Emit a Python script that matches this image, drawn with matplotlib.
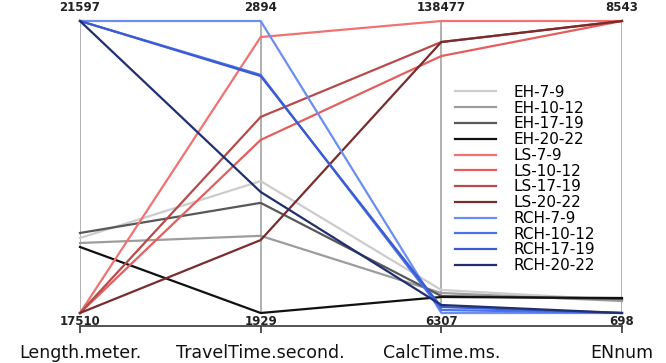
import numpy as np
import matplotlib.pyplot as plt

# route groups and hour windows
series = ["EH-7-9", "EH-10-12", "EH-17-19", "EH-20-22",
          "LS-7-9", "LS-10-12", "LS-17-19", "LS-20-22",
          "RCH-7-9", "RCH-10-12", "RCH-17-19", "RCH-20-22"]

columns = ["Length.meter.", "TravelTime.second.", "CalcTime.ms.", "ENnum"]

length_m = [18560, 18490, 18630, 18434,
            17510, 17510, 17510, 17510,
            21597, 21597, 21597, 21597]
travel_s = [2365, 2184, 2293, 1929,
            2841, 2501, 2577, 2170,
            2894, 2716, 2712, 2329]
calc_ms = [16720, 15360, 13980, 13550,
           138477, 122630, 128970, 128970,
           6307, 7665, 9020, 9930]
en_num = [1047, 1020, 1074, 1101,
          8543, 8543, 8543, 8543,
          698, 698, 698, 698]

colors = ["#cccccc", "#9c9c9c", "#585858", "#111111",
          "#f27272", "#e45e5e", "#b84a4a", "#7a2c2c",
          "#6b8ff0", "#4a72ea", "#3c5bd2", "#1f2f70"]

data = np.array([length_m, travel_s, calc_ms, en_num], dtype=float)
lo = data.min(axis=1)
hi = data.max(axis=1)
norm = (data - lo[:, None]) / (hi - lo)[:, None]
x = np.arange(len(columns))

fig = plt.figure(figsize=(6.66, 3.63), dpi=100)
ax = fig.add_axes([80 / 666, 1 - 313 / 363, 542 / 666, 292 / 363])

for i in x:
    ax.axvline(i, color="#aaaaaa", lw=1.3, zorder=1)

for j, name in enumerate(series):
    ax.plot(x, norm[:, j], color=colors[j], lw=1.6, label=name,
            clip_on=False, zorder=2)

ax.set_xlim(0, 3)
ax.set_ylim(0, 1)

# min / max value at each parallel axis
for i in x:
    ax.annotate(f"{hi[i]:.0f}", (i, 1), xytext=(0, 5), textcoords="offset points",
                ha="center", va="bottom", fontsize=8.5, fontweight="bold", color="#222222")
    ax.annotate(f"{lo[i]:.0f}", (i, 0), xytext=(0, -6), textcoords="offset points",
                ha="center", va="center", fontsize=8.5, fontweight="bold", color="#222222")

for side in ["top", "left", "right"]:
    ax.spines[side].set_visible(False)
ax.spines["bottom"].set_position(("outward", 9.5))
ax.spines["bottom"].set_color("#444444")
ax.spines["bottom"].set_linewidth(1.3)
ax.set_yticks([])
ax.set_xticks(x, labels=columns)
ax.tick_params(axis="x", direction="out", length=5, width=1.3, color="#444444",
               pad=8, labelsize=12.5, labelcolor="#111111")

ax.legend(loc="center left", bbox_to_anchor=((455 - 80) / 542, (313 - 179) / 292),
          frameon=False, fontsize=11, labelspacing=0.05, handlelength=2.7,
          handletextpad=1.1, borderpad=0, borderaxespad=0)

fig.savefig("out.png", dpi=100)
